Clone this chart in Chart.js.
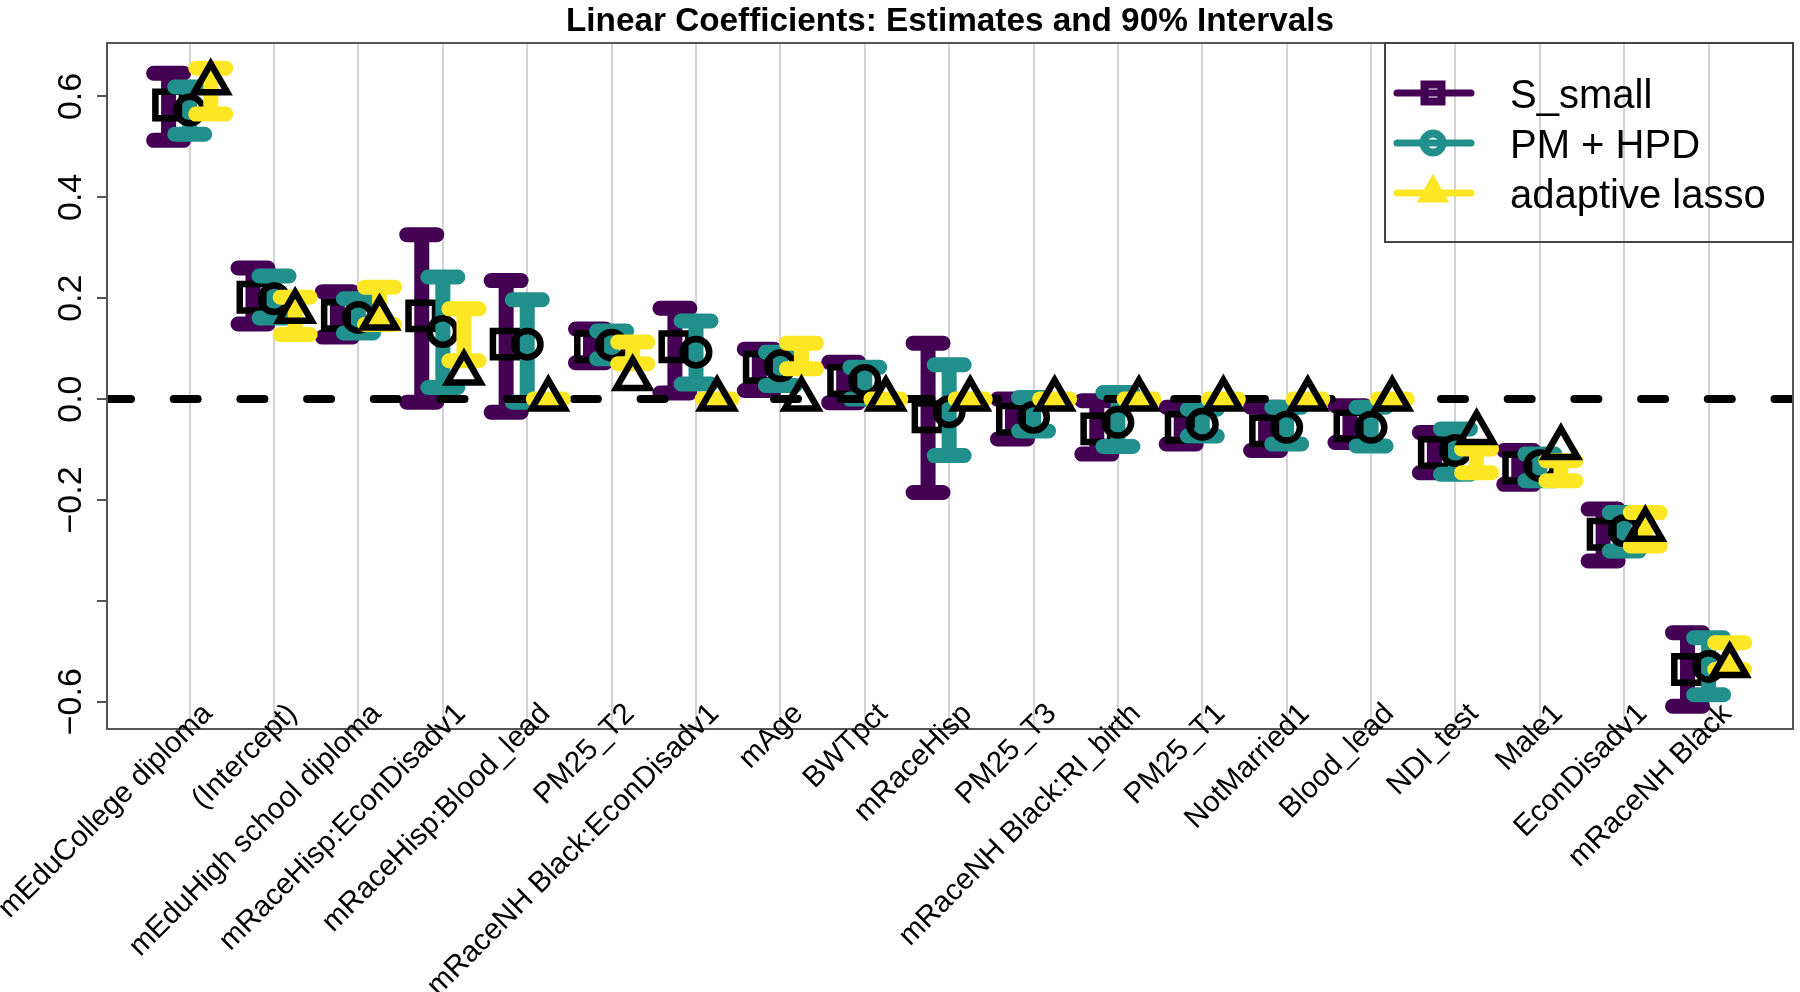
<!DOCTYPE html>
<html>
<head>
<meta charset="utf-8">
<title>Linear Coefficients</title>
<script src="https://cdn.jsdelivr.net/npm/chart.js@4"></script>
<style>
  html, body { margin: 0; padding: 0; background: #fff; }
  #wrap { width: 1800px; height: 992px; }
</style>
</head>
<body>
<div id="wrap"><canvas id="coefChart" width="1800" height="992"></canvas></div>
<script>
// coefficient names, in plotted order
const categories = [
  "mEduCollege diploma", "(Intercept)", "mEduHigh school diploma",
  "mRaceHisp:EconDisadv1", "mRaceHisp:Blood_lead", "PM25_T2",
  "mRaceNH Black:EconDisadv1", "mAge", "BWTpct", "mRaceHisp", "PM25_T3",
  "mRaceNH Black:RI_birth", "PM25_T1", "NotMarried1", "Blood_lead",
  "NDI_test", "Male1", "EconDisadv1", "mRaceNH Black"
];
const seriesNames = ["S_small", "PM + HPD", "adaptive lasso"];

// S_small
const sEst = [0.583, 0.202, 0.166, 0.165, 0.109, 0.104, 0.104, 0.063, 0.037, -0.035, -0.040, -0.059, -0.056, -0.063, -0.053, -0.106, -0.136, -0.268, -0.536];
const sLo  = [0.513, 0.149, 0.123, -0.006, -0.026, 0.072, 0.012, 0.017, -0.007, -0.185, -0.079, -0.109, -0.089, -0.102, -0.086, -0.146, -0.169, -0.321, -0.609];
const sHi  = [0.646, 0.260, 0.213, 0.326, 0.235, 0.139, 0.180, 0.099, 0.073, 0.111, 0.000, -0.003, -0.016, -0.016, -0.013, -0.066, -0.102, -0.218, -0.463];

// PM + HPD
const pmEst = [0.573, 0.199, 0.162, 0.134, 0.109, 0.107, 0.093, 0.066, 0.037, -0.025, -0.036, -0.046, -0.050, -0.056, -0.056, -0.102, -0.132, -0.261, -0.530];
const pmLo  = [0.525, 0.161, 0.131, 0.023, -0.006, 0.080, 0.030, 0.027, 0.000, -0.112, -0.063, -0.094, -0.073, -0.089, -0.093, -0.149, -0.162, -0.301, -0.586];
const pmHi  = [0.619, 0.244, 0.199, 0.242, 0.197, 0.135, 0.155, 0.093, 0.063, 0.068, 0.003, 0.013, -0.020, -0.016, -0.016, -0.059, -0.109, -0.225, -0.473];

// adaptive lasso
const alEst = [0.627, 0.174, 0.161, 0.052, 0, 0.041, 0, 0, 0, 0, 0, 0, 0, 0, 0, -0.066, -0.096, -0.258, -0.528];
const alLo  = [0.565, 0.128, 0.148, 0.076, 0, 0.070, 0, 0.060, 0, 0, 0, 0, 0, 0, 0, -0.146, -0.162, -0.291, -0.536];
const alHi  = [0.656, 0.202, 0.222, 0.179, 0, 0.113, 0, 0.111, 0, 0, 0, 0, 0, 0, 0, -0.099, -0.122, -0.225, -0.483];

const yTicks = [-0.6, -0.4, -0.2, 0, 0.2, 0.4, 0.6];
const yUnlabelled = [-0.4];
const titleText = "Linear Coefficients: Estimates and 90% Intervals";

const colors = ["#440154", "#21908C", "#FDE725"];
const offsets = [-0.25, 0, 0.25];
const shapes = ["rect", "circle", "triangle"];
const radii = [18.7, 13.25, 19];
const capHalf = 0.178;
const X_MIN = 0.02, X_MAX = 20;
const Y_MIN = -0.654, Y_MAX = 0.706;
const FONT = '"Liberation Sans", Arial, Helvetica, sans-serif';

Chart.defaults.font.family = FONT;

// I-shaped error bars as one broken line per series
function barPoints(lo, hi, off) {
  const pts = [];
  lo.forEach((l, i) => {
    const x = i + 1 + off;
    const h = hi[i];
    pts.push({x: x - capHalf, y: h}, {x: x + capHalf, y: h}, {x: x, y: null},
             {x: x, y: h}, {x: x, y: l}, {x: x, y: null},
             {x: x - capHalf, y: l}, {x: x + capHalf, y: l}, {x: x, y: null});
  });
  return pts;
}

function barSet(k, lo, hi, order) {
  return {
    type: 'scatter', showLine: true, spanGaps: false,
    data: barPoints(lo, hi, offsets[k]),
    borderColor: colors[k], borderWidth: 15,
    borderCapStyle: 'round', borderJoinStyle: 'round',
    pointRadius: 0, order: order
  };
}

function markSet(k, est, order) {
  return {
    type: 'scatter', label: seriesNames[k],
    data: est.map((v, i) => ({x: i + 1 + offsets[k], y: v})),
    pointStyle: shapes[k], pointRadius: radii[k],
    pointBorderWidth: 6.5, pointBorderColor: '#000',
    pointBackgroundColor: 'rgba(0,0,0,0)', order: order
  };
}

const zeroLine = {
  type: 'scatter', showLine: true,
  data: [{x: X_MIN, y: 0}, {x: X_MAX, y: 0}],
  borderColor: '#000', borderWidth: 8, borderDash: [24, 42.7],
  borderCapStyle: 'round', pointRadius: 0, clip: 0, order: 3
};

// frame, title, rotated category labels and legend drawn on top
const framePlugin = {
  id: 'frame',
  afterDraw(chart) {
    const {ctx, chartArea: a} = chart;
    const xScale = chart.scales.x;
    ctx.save();
    ctx.strokeStyle = '#555';
    ctx.lineWidth = 2;
    ctx.strokeRect(a.left, a.top, a.right - a.left, a.bottom - a.top);

    ctx.fillStyle = '#000';
    ctx.font = 'bold 33.3px ' + FONT;
    ctx.textAlign = 'center';
    ctx.textBaseline = 'alphabetic';
    ctx.fillText(titleText, (a.left + a.right) / 2, 31);

    ctx.font = '29.5px ' + FONT;
    ctx.textAlign = 'right';
    categories.forEach((name, i) => {
      const px = xScale.getPixelForValue(i + 1);
      ctx.save();
      ctx.translate(px + 24, a.bottom - 14);
      ctx.rotate(-Math.PI / 4);
      ctx.fillText(name, 0, 0);
      ctx.restore();
    });

    const bx = a.right - 408, by = a.top;
    ctx.strokeStyle = '#444';
    ctx.lineWidth = 2;
    ctx.strokeRect(bx, by, 408, 199);
    ctx.font = '40px ' + FONT;
    ctx.textAlign = 'left';
    seriesNames.forEach((name, k) => {
      const y = by + 50 + k * 50;
      const mx = bx + 48;
      ctx.strokeStyle = colors[k];
      ctx.lineCap = 'round';
      ctx.lineWidth = 7;
      ctx.beginPath();
      ctx.moveTo(bx + 12, y);
      ctx.lineTo(bx + 86, y);
      ctx.stroke();
      ctx.lineWidth = 8;
      ctx.lineJoin = 'miter';
      ctx.beginPath();
      if (k === 0) {
        ctx.rect(mx - 8.5, y - 8.5, 17, 17);
      } else if (k === 1) {
        ctx.arc(mx, y, 9.5, 0, Math.PI * 2);
      } else {
        ctx.moveTo(mx, y - 11);
        ctx.lineTo(mx + 9.5, y + 5.5);
        ctx.lineTo(mx - 9.5, y + 5.5);
        ctx.closePath();
      }
      ctx.stroke();
      ctx.fillStyle = '#000';
      ctx.fillText(name, bx + 125, y + 14.5);
    });
    ctx.restore();
  }
};

const chart = new Chart(document.getElementById('coefChart'), {
  type: 'scatter',
  data: {
    datasets: [
      barSet(0, sLo, sHi, 7), markSet(0, sEst, 6),
      barSet(1, pmLo, pmHi, 5), markSet(1, pmEst, 4),
      zeroLine,
      barSet(2, alLo, alHi, 2), markSet(2, alEst, 1)
    ]
  },
  options: {
    responsive: false,
    animation: false,
    devicePixelRatio: 1,
    events: [],
    layout: { autoPadding: false, padding: { top: 43, right: 7, left: 0, bottom: 0 } },
    plugins: {
      legend: { display: false },
      title: { display: false },
      tooltip: { enabled: false }
    },
    scales: {
      x: {
        type: 'linear', min: X_MIN, max: X_MAX,
        afterBuildTicks: s => { s.ticks = categories.map((c, i) => ({value: i + 1})); },
        afterFit: s => { s.height = 263; s.paddingLeft = 0; s.paddingRight = 0; },
        grid: { color: '#d3d3d3', lineWidth: 2, drawTicks: false },
        border: { display: false },
        ticks: { display: false }
      },
      y: {
        type: 'linear', min: Y_MIN, max: Y_MAX,
        afterBuildTicks: s => { s.ticks = yTicks.map(v => ({value: v})); },
        afterFit: s => { s.width = 107; s.paddingTop = 0; s.paddingBottom = 0; },
        grid: { drawOnChartArea: false, drawTicks: true, tickLength: 10, color: '#555', lineWidth: 2 },
        border: { display: false },
        ticks: {
          minRotation: 90, maxRotation: 90, crossAlign: 'center',
          padding: -8, color: '#000', font: { size: 34 },
          callback: v => yUnlabelled.includes(v) ? '' : v.toFixed(1).replace('-', '\u2212')
        }
      }
    }
  },
  plugins: [framePlugin]
});
</script>
</body>
</html>
